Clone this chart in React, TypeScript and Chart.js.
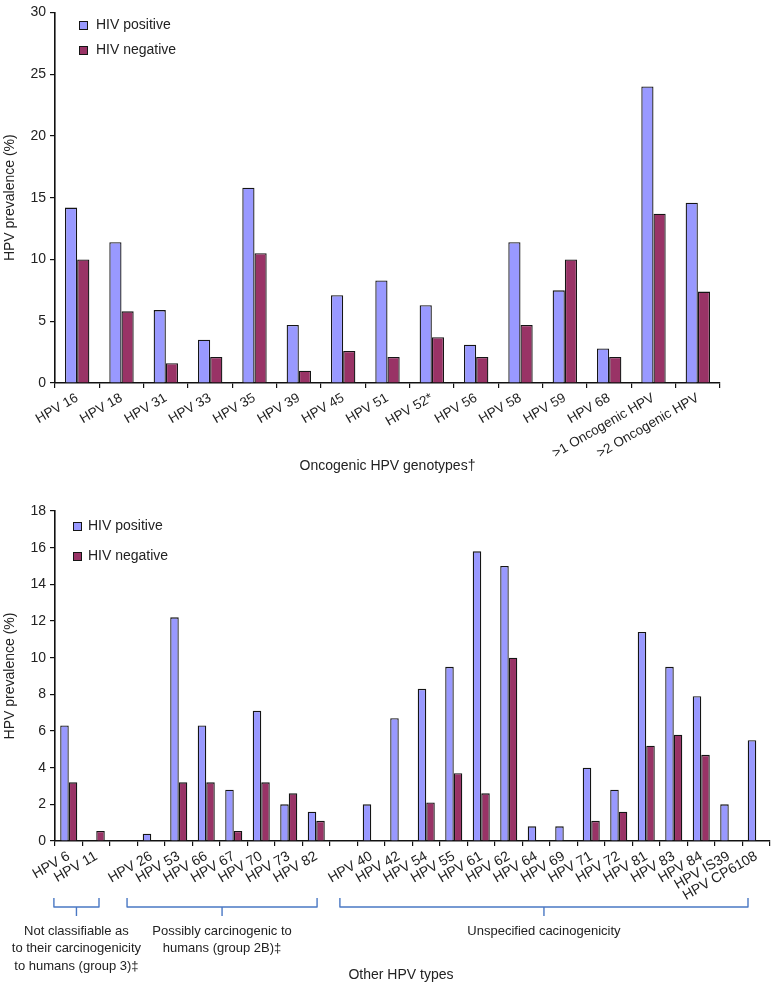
import React, { useEffect, useRef } from "react";
import { Chart, registerables } from "chart.js";

Chart.register(...registerables);

// ---------------- data ----------------
const seriesNames = ["HIV positive", "HIV negative"];
const yTitle = "HPV prevalence (%)";

const oncogenicTypes = [
  "HPV 16", "HPV 18", "HPV 31", "HPV 33", "HPV 35", "HPV 39", "HPV 45", "HPV 51",
  "HPV 52*", "HPV 56", "HPV 58", "HPV 59", "HPV 68", ">1 Oncogenic HPV", ">2 Oncogenic HPV",
];
const oncoHivPositive = [14.2, 11.4, 5.9, 3.5, 15.8, 4.7, 7.1, 8.3, 6.3, 3.1, 11.4, 7.5, 2.8, 24.0, 14.6];
const oncoHivNegative = [10.0, 5.8, 1.6, 2.1, 10.5, 1.0, 2.6, 2.1, 3.7, 2.1, 4.7, 10.0, 2.1, 13.7, 7.4];
const oncoAxisTitle = "Oncogenic HPV genotypes†";
const oncoYMax = 30;
const oncoYStep = 5;

const otherTypes = [
  "HPV 6", "HPV 11", "", "HPV 26", "HPV 53", "HPV 66", "HPV 67", "HPV 70", "HPV 73", "HPV 82", "",
  "HPV 40", "HPV 42", "HPV 54", "HPV 55", "HPV 61", "HPV 62", "HPV 64", "HPV 69", "HPV 71", "HPV 72",
  "HPV 81", "HPV 83", "HPV 84", "HPV IS39", "HPV CP6108",
];
const otherHivPositive = [
  6.3, 0, null, 0.4, 12.2, 6.3, 2.8, 7.1, 2.0, 1.6, null,
  2.0, 6.7, 8.3, 9.5, 15.8, 15.0, 0.8, 0.8, 4.0, 2.8, 11.4, 9.5, 7.9, 2.0, 5.5,
];
const otherHivNegative = [
  3.2, 0.55, null, 0, 3.2, 3.2, 0.55, 3.2, 2.6, 1.1, null,
  0, 0, 2.1, 3.7, 2.6, 10.0, 0, 0, 1.1, 1.6, 5.2, 5.8, 4.7, 0, 0,
];
const otherAxisTitle = "Other HPV types";
const otherYMax = 18;
const otherYStep = 2;

// groups of the "other" panel, spans in category units (0 = first category)
const groupLines = [
  ["Not classifiable as", "to their carcinogenicity", "to humans (group 3)‡"],
  ["Possibly carcinogenic to", "humans (group 2B)‡"],
  ["Unspecified cacinogenicity"],
];
const groupFrom = [-0.54, 2.12, 9.86];
const groupTo = [1.1, 9.03, 24.7];

// ---------------- style ----------------
const FONT = "'Liberation Sans', Arial, Helvetica, sans-serif";
const TEXT = "#222222";
const POS_COLOR = "#9999ff";
const NEG_COLOR = "#993366";
const EDGE = "#151515";
const BRACE = "#4a78c4";

type LegendOpts = { dx: number; dy: number; gap: number; box: number; textDx: number };

function makeLegend(o: LegendOpts) {
  return {
    id: "insideLegend",
    afterDraw(chart: any) {
      const { ctx, chartArea } = chart;
      ctx.save();
      ctx.font = `14px ${FONT}`;
      ctx.textBaseline = "middle";
      ctx.textAlign = "left";
      chart.data.datasets.forEach((ds: any, i: number) => {
        const x = chartArea.left + o.dx;
        const y = chartArea.top + o.dy + i * o.gap;
        ctx.fillStyle = ds.backgroundColor;
        ctx.fillRect(x, y, o.box, o.box);
        ctx.strokeStyle = EDGE;
        ctx.lineWidth = 1;
        ctx.strokeRect(x + 0.5, y + 0.5, o.box - 1, o.box - 1);
        ctx.fillStyle = TEXT;
        ctx.fillText(ds.label, chartArea.left + o.textDx, y + o.box / 2);
      });
      ctx.restore();
    },
  };
}

const bracePlugin = {
  id: "groupBraces",
  afterDraw(chart: any) {
    const { ctx, chartArea } = chart;
    const xs = chart.scales.x;
    const c0 = xs.getPixelForValue(0);
    const cw = xs.getPixelForValue(1) - c0;
    const base = chartArea.bottom;
    const top = base + 57;
    const mid = base + 66;
    const tip = base + 75;
    ctx.save();
    ctx.strokeStyle = BRACE;
    ctx.lineWidth = 1.4;
    ctx.lineJoin = "round";
    ctx.font = `13px ${FONT}`;
    ctx.fillStyle = TEXT;
    ctx.textAlign = "center";
    ctx.textBaseline = "middle";
    let spanL = Infinity;
    let spanR = -Infinity;
    groupLines.forEach((lines, g) => {
      const x1 = c0 + groupFrom[g] * cw;
      const x2 = c0 + groupTo[g] * cw;
      const xm = (x1 + x2) / 2;
      spanL = Math.min(spanL, x1);
      spanR = Math.max(spanR, x2);
      ctx.beginPath();
      ctx.moveTo(x1, top);
      ctx.lineTo(x1, mid);
      ctx.lineTo(x2, mid);
      ctx.lineTo(x2, top);
      ctx.moveTo(xm, mid);
      ctx.lineTo(xm, tip);
      ctx.stroke();
      lines.forEach((t, k) => ctx.fillText(t, xm, base + 90 + k * 17.5));
    });
    ctx.font = `14px ${FONT}`;
    ctx.fillText(otherAxisTitle, (spanL + spanR) / 2, base + 134);
    ctx.restore();
  },
};

type PanelOpts = {
  labels: string[];
  pos: (number | null)[];
  neg: (number | null)[];
  yMax: number;
  yStep: number;
  xHeight: number;
  padTop: number;
  padRight: number;
  catPct: number;
  tickFont: number;
  rotation: number;
  xTitle?: string;
  xTitlePadBottom?: number;
  plugins: any[];
};

function buildConfig(o: PanelOpts): any {
  const barStyle = {
    borderColor: EDGE,
    borderWidth: 1.3,
    categoryPercentage: o.catPct,
    barPercentage: 1,
  };
  return {
    type: "bar",
    data: {
      labels: o.labels,
      datasets: [
        { label: seriesNames[0], data: o.pos, backgroundColor: POS_COLOR, ...barStyle },
        { label: seriesNames[1], data: o.neg, backgroundColor: NEG_COLOR, ...barStyle },
      ],
    },
    options: {
      responsive: false,
      animation: false,
      layout: { padding: { top: o.padTop, right: o.padRight, bottom: 0, left: 0 } },
      plugins: {
        legend: { display: false },
        tooltip: { enabled: false },
        title: { display: false },
      },
      scales: {
        x: {
          grid: {
            display: true,
            drawOnChartArea: false,
            drawTicks: true,
            tickLength: 5,
            color: "#111",
            lineWidth: 1.2,
            offset: true,
          },
          border: { display: true, color: "#111", width: 1.6 },
          ticks: {
            autoSkip: false,
            maxRotation: o.rotation,
            minRotation: o.rotation,
            padding: 2,
            color: TEXT,
            font: { family: FONT, size: o.tickFont },
          },
          title: o.xTitle
            ? {
                display: true,
                text: o.xTitle,
                color: TEXT,
                font: { family: FONT, size: 14 },
                padding: { top: 0, bottom: o.xTitlePadBottom ?? 0 },
              }
            : { display: false },
          afterFit: (s: any) => {
            s.height = o.xHeight;
          },
        },
        y: {
          min: 0,
          max: o.yMax,
          ticks: {
            stepSize: o.yStep,
            padding: 4,
            color: TEXT,
            font: { family: FONT, size: 14 },
          },
          grid: {
            display: true,
            drawOnChartArea: false,
            drawTicks: true,
            tickLength: 5,
            color: "#111",
            lineWidth: 1.2,
          },
          border: { display: true, color: "#111", width: 1.6 },
          title: {
            display: true,
            text: yTitle,
            color: TEXT,
            font: { family: FONT, size: 14 },
            padding: { top: 2, bottom: 0 },
          },
          afterFit: (s: any) => {
            s.width = 55;
          },
        },
      },
    },
    plugins: o.plugins,
  };
}

export default function App() {
  const topRef = useRef<HTMLCanvasElement>(null);
  const botRef = useRef<HTMLCanvasElement>(null);

  useEffect(() => {
    const top = new Chart(
      topRef.current as HTMLCanvasElement,
      buildConfig({
        labels: oncogenicTypes,
        pos: oncoHivPositive,
        neg: oncoHivNegative,
        yMax: oncoYMax,
        yStep: oncoYStep,
        xHeight: 97,
        padTop: 8,
        padRight: 52,
        catPct: 0.55,
        tickFont: 13.5,
        rotation: 30,
        xTitle: oncoAxisTitle,
        xTitlePadBottom: 5.6,
        plugins: [makeLegend({ dx: 24, dy: 8.6, gap: 25, box: 9, textDx: 41 })],
      })
    );
    const bottom = new Chart(
      botRef.current as HTMLCanvasElement,
      buildConfig({
        labels: otherTypes,
        pos: otherHivPositive,
        neg: otherHivNegative,
        yMax: otherYMax,
        yStep: otherYStep,
        xHeight: 142,
        padTop: 31,
        padRight: 2,
        catPct: 0.62,
        tickFont: 14,
        rotation: 30,
        plugins: [makeLegend({ dx: 18, dy: 11, gap: 30, box: 9, textDx: 33 }), bracePlugin],
      })
    );
    return () => {
      top.destroy();
      bottom.destroy();
    };
  }, []);

  return (
    <div
      style={{
        position: "absolute",
        left: 0,
        top: 0,
        width: 772,
        height: 983,
        background: "#ffffff",
      }}
    >
      <canvas ref={topRef} width={772} height={480} style={{ display: "block" }} />
      <canvas ref={botRef} width={772} height={503} style={{ display: "block" }} />
    </div>
  );
}
